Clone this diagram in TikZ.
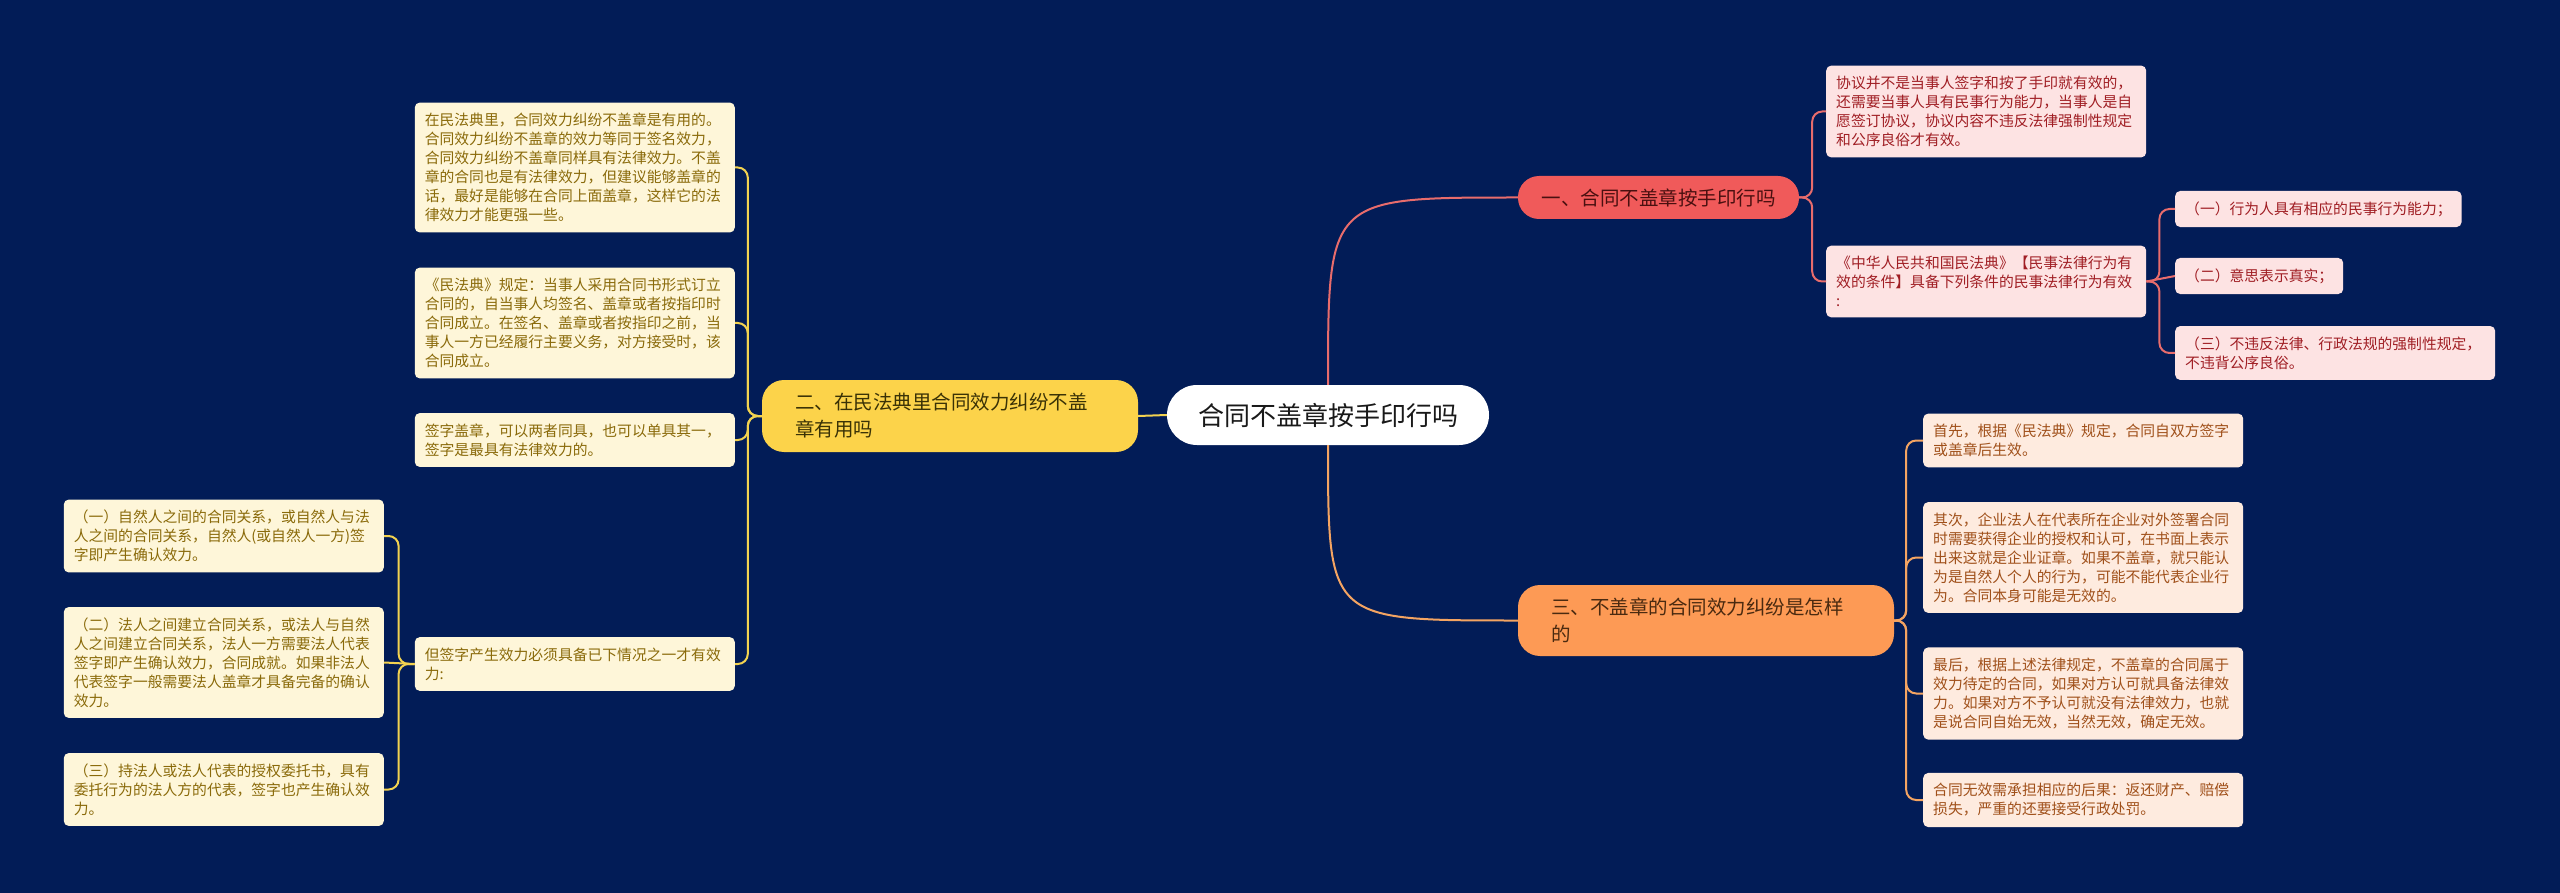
\documentclass[tikz,border=0pt]{standalone}
\usepackage{fontspec}
\setmainfont{Noto Sans CJK SC}
\definecolor{bg}{HTML}{021C57}
\definecolor{yfill}{HTML}{FCD34A}
\definecolor{ytext}{HTML}{3A3206}
\definecolor{ylf}{HTML}{FEF6D9}
\definecolor{ylt}{HTML}{8A6A0A}
\definecolor{yline}{HTML}{F2D250}
\definecolor{rfill}{HTML}{F05A5A}
\definecolor{rtext}{HTML}{4A1010}
\definecolor{rlf}{HTML}{FDE3E3}
\definecolor{rlt}{HTML}{A01E24}
\definecolor{rline}{HTML}{E86C6C}
\definecolor{ofill}{HTML}{FD9A55}
\definecolor{otext}{HTML}{4A2A10}
\definecolor{olf}{HTML}{FEEBDF}
\definecolor{olt}{HTML}{A0501A}
\definecolor{oline}{HTML}{F4A462}
\tikzset{
  leaf/.style={rounded corners=5pt, text width=300pt, inner xsep=10pt, inner ysep=10.5pt, align=left, font=\fontsize{14.8}{19}\selectfont},
  yleaf/.style={leaf, fill=ylf, text=ylt},
  rleaf/.style={leaf, fill=rlf, text=rlt},
  oleaf/.style={leaf, fill=olf, text=olt},
  rleafs/.style={rounded corners=5pt, inner xsep=10pt, inner ysep=10.5pt, align=left, font=\fontsize{14.8}{19}\selectfont, fill=rlf, text=rlt},
  topic/.style={rounded corners=22pt, inner xsep=33pt, inner ysep=12pt, align=left, font=\fontsize{19.5}{27}\selectfont},
  conn/.style={line width=2pt, rounded corners=10pt},
  straight/.style={line width=2pt},
}
\begin{document}
\begin{tikzpicture}[x=1pt,y=-1pt]
\fill[bg] (0,0) rectangle (2560,893);
\useasboundingbox (0,0) rectangle (2560,893);

% center and topics
\node[fill=white, rounded corners=30pt, minimum width=322pt, minimum height=60pt, inner sep=0pt, font=\fontsize{26}{30}\selectfont, text=black!90] (c) at (1328,415) {合同不盖章按手印行吗};
\node[topic, fill=yfill, text=ytext, text width=310pt, minimum height=72pt] (yel) at (950,416) {二、在民法典里合同效力纠纷不盖\\章有用吗};
\node[topic, fill=rfill, text=rtext, rounded corners=21pt, minimum width=281pt, minimum height=43pt, inner xsep=0pt, inner ysep=0pt, align=center] (r) at (1658.5,197.5) {一、合同不盖章按手印行吗};
\node[topic, fill=ofill, text=otext, text width=310pt, minimum height=71pt] (o) at (1706,620.5) {三、不盖章的合同效力纠纷是怎样\\的};

% left leaves
\node[yleaf, anchor=east] (l1) at (735,167.5) {在民法典里，合同效力纠纷不盖章是有用的。\\合同效力纠纷不盖章的效力等同于签名效力，\\合同效力纠纷不盖章同样具有法律效力。不盖\\章的合同也是有法律效力，但建议能够盖章的\\话，最好是能够在合同上面盖章，这样它的法\\律效力才能更强一些。};
\node[yleaf, anchor=east] (l2) at (735,323) {《民法典》规定：当事人采用合同书形式订立\\合同的，自当事人均签名、盖章或者按指印时\\合同成立。在签名、盖章或者按指印之前，当\\事人一方已经履行主要义务，对方接受时，该\\合同成立。};
\node[yleaf, anchor=east] (l3) at (735,440) {签字盖章，可以两者同具，也可以单具其一，\\签字是最具有法律效力的。};
\node[yleaf, anchor=east] (l4) at (735,664) {但签字产生效力必须具备已下情况之一才有效\\力:};
\node[yleaf, anchor=east] (s1) at (384,536) {（一）自然人之间的合同关系，或自然人与法\\人之间的合同关系，自然人(或自然人一方)签\\字即产生确认效力。};
\node[yleaf, anchor=east] (s2) at (384,662.5) {（二）法人之间建立合同关系，或法人与自然\\人之间建立合同关系，法人一方需要法人代表\\签字即产生确认效力，合同成就。如果非法人\\代表签字一般需要法人盖章才具备完备的确认\\效力。};
\node[yleaf, anchor=east] (s3) at (384,789.5) {（三）持法人或法人代表的授权委托书，具有\\委托行为的法人方的代表，签字也产生确认效\\力。};

% right red leaves
\node[rleaf, anchor=west] (r1) at (1826,111.5) {协议并不是当事人签字和按了手印就有效的，\\还需要当事人具有民事行为能力，当事人是自\\愿签订协议，协议内容不违反法律强制性规定\\和公序良俗才有效。};
\node[rleaf, anchor=west] (r2) at (1826,281.5) {《中华人民共和国民法典》【民事法律行为有\\效的条件】具备下列条件的民事法律行为有效\\:};
\node[rleafs, anchor=west] (rs1) at (2175,209) {（一）行为人具有相应的民事行为能力；};
\node[rleafs, anchor=west] (rs2) at (2175,276) {（二）意思表示真实；};
\node[rleaf, anchor=west] (rs3) at (2175,353) {（三）不违反法律、行政法规的强制性规定，\\不违背公序良俗。};

% right orange leaves
\node[oleaf, anchor=west] (o1) at (1923,440.5) {首先，根据《民法典》规定，合同自双方签字\\或盖章后生效。};
\node[oleaf, anchor=west] (o2) at (1923,557.5) {其次，企业法人在代表所在企业对外签署合同\\时需要获得企业的授权和认可，在书面上表示\\出来这就是企业证章。如果不盖章，就只能认\\为是自然人个人的行为，可能不能代表企业行\\为。合同本身可能是无效的。};
\node[oleaf, anchor=west] (o3) at (1923,693.5) {最后，根据上述法律规定，不盖章的合同属于\\效力待定的合同，如果对方认可就具备法律效\\力。如果对方不予认可就没有法律效力，也就\\是说合同自始无效，当然无效，确定无效。};
\node[oleaf, anchor=west] (o4) at (1923,800) {合同无效需承担相应的后果：返还财产、赔偿\\损失，严重的还要接受行政处罚。};

% connectors
\draw[straight, yline] (c.west) -- (yel.east);
\draw[straight, rline] (c.north) .. controls (c.north |- r.west) and (c.north |- r.west) .. (r.west);
\draw[straight, oline] (c.south) .. controls (c.south |- o.west) and (c.south |- o.west) .. (o.west);

\foreach \n in {l1,l2,l3,l4}
  \draw[conn, yline] (yel.west) -- ++(-14,0) |- (\n.east);
\foreach \n in {s1,s3}
  \draw[conn, yline] (l4.west) -- ++(-16,0) |- (\n.east);
\draw[straight, yline] (l4.west) -- (s2.east);

\foreach \n in {r1,r2}
  \draw[conn, rline] (r.east) -- ++(13,0) |- (\n.west);
\foreach \n in {rs1,rs3}
  \draw[conn, rline] (r2.east) -- ++(13,0) |- (\n.west);
\draw[straight, rline] (r2.east) -- (rs2.west);

\foreach \n in {o1,o2,o3,o4}
  \draw[conn, oline] (o.east) -- ++(12,0) |- (\n.west);
\end{tikzpicture}
\end{document}
